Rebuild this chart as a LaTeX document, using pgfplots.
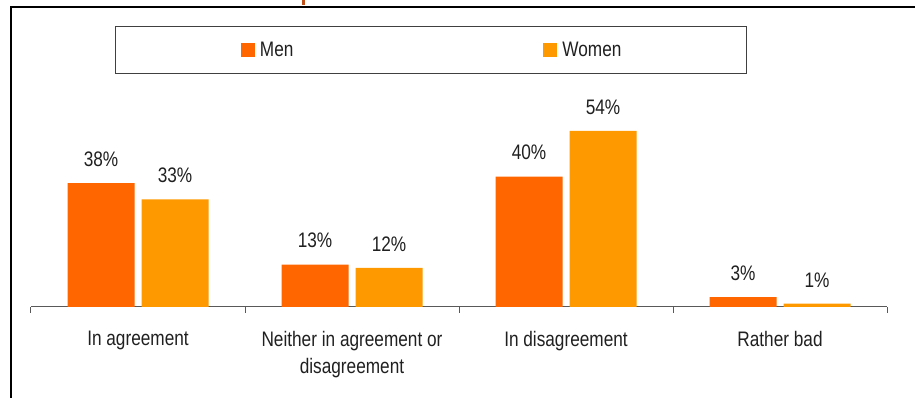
\documentclass[border=0pt]{standalone}
\usepackage{pgfplots}
\pgfplotsset{compat=1.18}
\usepackage{fontspec}
\setmainfont{Liberation Sans}[FakeStretch=0.82]
\definecolor{menc}{HTML}{FF6600}
\definecolor{womc}{HTML}{FF9900}
\definecolor{txt}{HTML}{202020}
\definecolor{ttl}{HTML}{C0501A}
\newcommand\f{\fontsize{21}{27}\selectfont}
\begin{document}
\begin{tikzpicture}[x=1pt,y=1pt]
\path[use as bounding box] (0,0) rectangle (915,398);
\draw[line width=2pt] (11,-2) -- (11,391.3) -- (917,391.3);
\fill[ttl] (302,393) rectangle (305,398);
\begin{axis}[
  at={(31pt,91pt)}, anchor=south west,
  scale only axis, width=856pt, height=228.2pt,
  xmin=-0.5, xmax=3.5, ymin=0, ymax=70,
  axis x line*=bottom, axis y line=none,
  x axis line style={color=black!65, line width=1pt, -},
  xtick={0,1,2,3}, major tick length=0pt,
  xticklabels={In agreement, {Neither in agreement or\\disagreement}, In disagreement, Rather bad},
  xticklabel style={font=\f, text=txt, align=center, anchor=north, inner sep=0pt, yshift=-23.7pt},
  minor xtick={-0.5,0.5,1.5,2.5,3.5}, minor tick length=6pt, tick align=outside,
  every minor tick/.append style={black!65, line width=1pt},
  ytick=\empty,
  ybar=7pt, bar width=67pt,
  nodes near coords={\pgfmathprintnumber{\pgfplotspointmeta}\%},
  every node near coord/.append style={font=\f, text=txt, anchor=base, inner sep=0pt, yshift=16.7pt},
  /pgf/number format/assume math mode=true,
  legend columns=2,
  legend style={at={(0.0981,1.2314)}, anchor=north west, draw=black!75, line width=1pt,
    inner xsep=125.5pt, inner ysep=15.5pt, font=\f, text=txt, nodes={inner sep=0pt},
    /tikz/every odd column/.append style={column sep=5pt},
    /tikz/every even column/.append style={column sep=250pt}},
  legend image code/.code={\fill[#1] (0pt,-7pt) rectangle (14pt,7pt);},
  clip=false,
]
\addplot[fill=menc, draw=none] coordinates {(0,38) (1,13) (2,40) (3,3)};
\addplot[fill=womc, draw=none] coordinates {(0,33) (1,12) (2,54) (3,1)};
\legend{Men,Women}
\end{axis}
\end{tikzpicture}
\end{document}
